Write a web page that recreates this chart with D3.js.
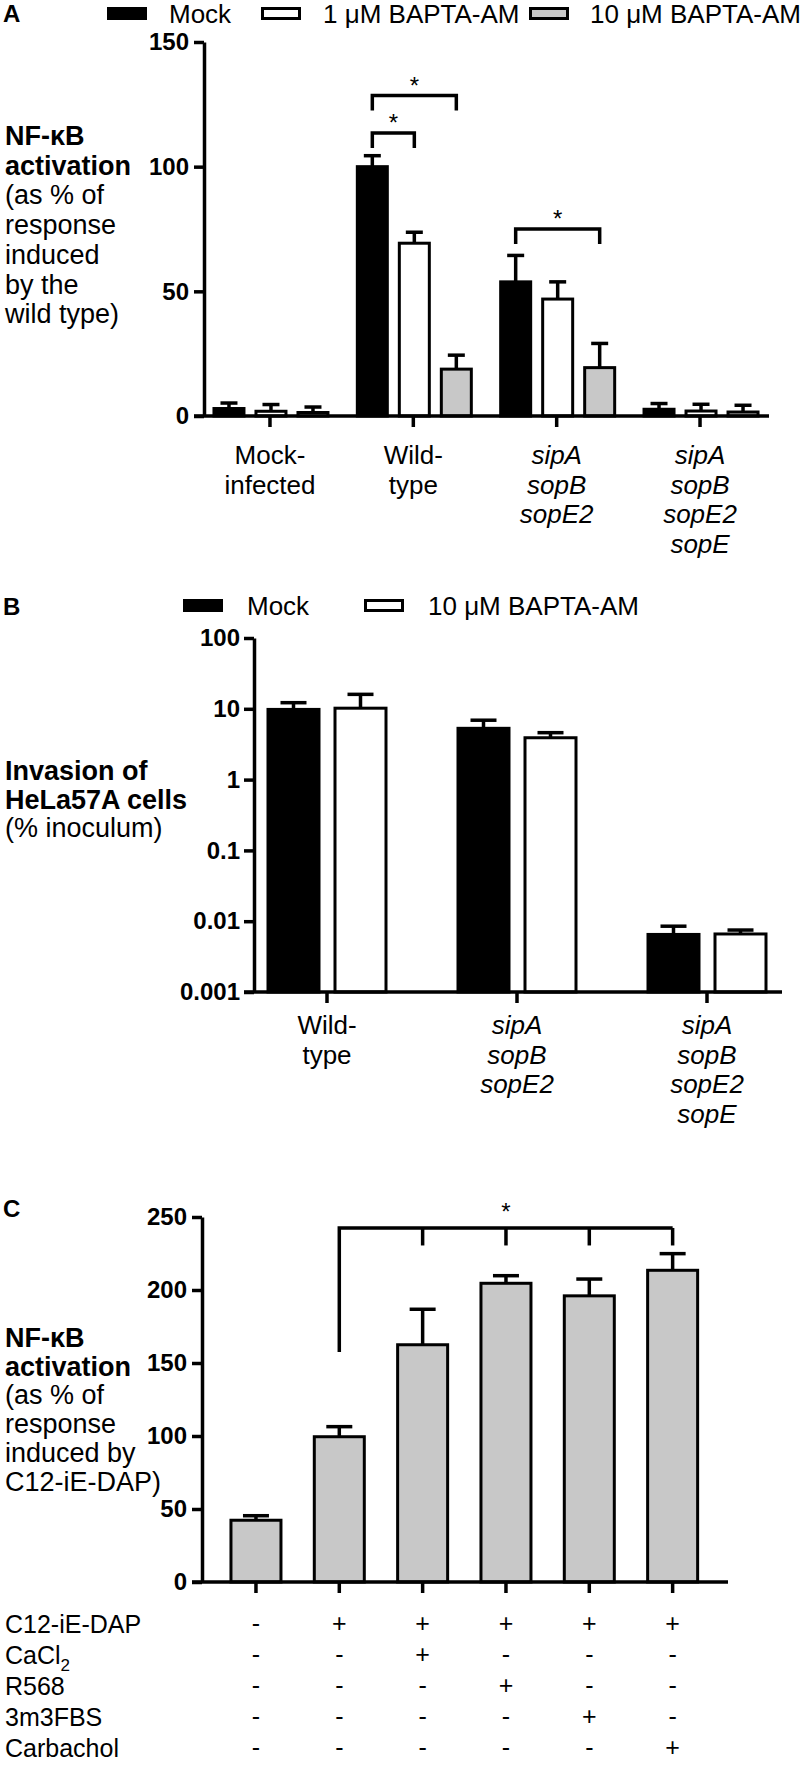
<!DOCTYPE html>
<html><head><meta charset="utf-8">
<script src="https://cdn.jsdelivr.net/npm/d3@7"></script>
<style>
body{margin:0;background:#fff;}
svg{display:block;font-family:"Liberation Sans",Arial,Helvetica,sans-serif;}
</style></head><body>
<script>
// ---------------- Panel A data ----------------
const groupsA = ["Mock-infected", "Wild-type", "sipA sopB sopE2", "sipA sopB sopE2 sopE"];
const groupLinesA = [["Mock-", "infected"], ["Wild-", "type"], ["sipA", "sopB", "sopE2"], ["sipA", "sopB", "sopE2", "sopE"]];
const italicA = [false, false, true, true];
const seriesA = ["Mock", "1 \u03BCM BAPTA-AM", "10 \u03BCM BAPTA-AM"];
const meanMockA = [3.0, 100, 53.8, 2.7];
const sdMockA   = [2.2, 4.4, 10.6, 2.3];
const mean1uMA  = [1.9, 69.3, 46.9, 2.0];
const sd1uMA    = [2.7, 4.4, 6.9, 2.7];
const mean10uMA = [1.4, 18.8, 19.4, 1.6];
const sd10uMA   = [2.2, 5.6, 9.7, 2.7];
const ticksA = [0, 50, 100, 150];
const yLabelA = [["NF-\u03BAB", true], ["activation", true], ["(as % of", false], ["response", false], ["induced", false], ["by the", false], ["wild type)", false]];
const bracketsA = [
  {group: 1, from: 0, to: 1, y: 113.5, leg: 6},
  {group: 1, from: 0, to: 2, y: 128.5, leg: 6},
  {group: 2, from: 0, to: 2, y: 75, leg: 6}
];

// ---------------- Panel B data ----------------
const groupsB = ["Wild-type", "sipA sopB sopE2", "sipA sopB sopE2 sopE"];
const groupLinesB = [["Wild-", "type"], ["sipA", "sopB", "sopE2"], ["sipA", "sopB", "sopE2", "sopE"]];
const italicB = [false, true, true];
const seriesB = ["Mock", "10 \u03BCM BAPTA-AM"];
const meanMockB  = [9.8, 5.3, 0.0065];
const upperMockB = [12.2, 6.9, 0.0085];
const mean10uMB  = [10.2, 3.9, 0.0066];
const upper10uMB = [16.0, 4.6, 0.0075];
const ticksB = [0.001, 0.01, 0.1, 1, 10, 100];
const tickLabelsB = ["0.001", "0.01", "0.1", "1", "10", "100"];
const yLabelB = [["Invasion of", true], ["HeLa57A cells", true], ["(% inoculum)", false]];

// ---------------- Panel C data ----------------
const conditionsC = ["none", "C12-iE-DAP", "C12-iE-DAP + CaCl2", "C12-iE-DAP + R568", "C12-iE-DAP + 3m3FBS", "C12-iE-DAP + Carbachol"];
const meanC  = [42.3, 99.5, 162.5, 204.6, 196.0, 213.5];
const upperC = [45.4, 106.4, 186.8, 209.8, 207.5, 224.9];
const ticksC = [0, 50, 100, 150, 200, 250];
const yLabelC = [["NF-\u03BAB", true], ["activation", true], ["(as % of", false], ["response", false], ["induced by", false], ["C12-iE-DAP)", false]];
const tableRowsC = ["C12-iE-DAP", "CaCl2", "R568", "3m3FBS", "Carbachol"];
const tableSignsC = [
  ["-", "+", "+", "+", "+", "+"],
  ["-", "-", "+", "-", "-", "-"],
  ["-", "-", "-", "+", "-", "-"],
  ["-", "-", "-", "-", "+", "-"],
  ["-", "-", "-", "-", "-", "+"]
];
const bracketC = {from: 1, to: [2, 3, 4, 5], y: 242.5, leftBottom: 157.5, leg: 12};

// ---------------- helpers ----------------
const BLACK = "#000", GRAY = "#c8c8c8", WHITE = "#fff";
const svg = d3.select("body").append("svg").attr("width", 800).attr("height", 1768);

function styleAxis(g) {
  g.attr("font-family", null).attr("font-size", null);
  g.selectAll(".domain").attr("stroke", BLACK).attr("stroke-width", 3.5);
  g.selectAll(".tick line").attr("stroke", BLACK).attr("stroke-width", 3.5);
  g.selectAll(".tick text").attr("fill", BLACK).attr("font-size", 24).attr("font-weight", "bold");
}
function panelLetter(t, y) {
  svg.append("text").attr("x", 3).attr("y", y).attr("font-size", 24).attr("font-weight", "bold").text(t);
}
function yTitle(lines, y0, lh) {
  svg.append("g").selectAll("text").data(lines).join("text")
    .attr("x", 5).attr("y", (d, i) => y0 + i * lh)
    .attr("font-size", 27).attr("font-weight", d => d[1] ? "bold" : "normal")
    .text(d => d[0]);
}
function legend(items, y) {
  const g = svg.append("g");
  items.forEach(it => {
    g.append("rect").attr("x", it.rx + 1.5).attr("y", y).attr("width", 37).attr("height", 10)
      .attr("fill", it.fill).attr("stroke", BLACK).attr("stroke-width", 3);
    g.append("text").attr("x", it.tx).attr("y", y + 14).attr("font-size", 26).text(it.label);
  });
}
function catLabels(xScale, groups, linesArr, italics, y0, lh) {
  const g = svg.append("g");
  groups.forEach((grp, i) => {
    const t = g.append("text").attr("text-anchor", "middle").attr("font-size", 26)
      .attr("font-style", italics[i] ? "italic" : "normal");
    linesArr[i].forEach((ln, j) => {
      t.append("tspan").attr("x", xScale(grp) + xScale.bandwidth() / 2).attr("y", y0 + j * lh).text(ln);
    });
  });
}
function errBar(g, cx, yTop, yErr, capW) {
  g.append("line").attr("x1", cx).attr("x2", cx).attr("y1", yTop).attr("y2", yErr)
    .attr("stroke", BLACK).attr("stroke-width", 3.5);
  g.append("line").attr("x1", cx - capW / 2).attr("x2", cx + capW / 2).attr("y1", yErr).attr("y2", yErr)
    .attr("stroke", BLACK).attr("stroke-width", 3.5);
}

// ================= Panel A =================
{
  const axisX = 204;
  const yA = d3.scaleLinear().domain([0, 150]).range([416, 42]);
  const xA = d3.scaleBand().domain(groupsA).range([198.3, 771.7]);
  const offA = d3.scalePoint().domain(seriesA).range([-41, 43]);
  const meansA = [meanMockA, mean1uMA, mean10uMA];
  const sdsA = [sdMockA, sd1uMA, sd10uMA];
  const fillsA = [BLACK, WHITE, GRAY];
  const barW = 30;
  const cx = (gi, si) => xA(groupsA[gi]) + xA.bandwidth() / 2 + offA(seriesA[si]);

  panelLetter("A", 22);
  legend([
    {rx: 107, tx: 169, fill: fillsA[0], label: seriesA[0]},
    {rx: 261, tx: 323, fill: fillsA[1], label: seriesA[1]},
    {rx: 529, tx: 590, fill: fillsA[2], label: seriesA[2]}
  ], 8.5);
  yTitle(yLabelA, 145, 29.7);

  const g = svg.append("g");
  seriesA.forEach((s, si) => {
    groupsA.forEach((grp, gi) => {
      const m = meansA[si][gi];
      g.append("rect").attr("x", cx(gi, si) - barW / 2).attr("y", yA(m))
        .attr("width", barW).attr("height", yA(0) - yA(m))
        .attr("fill", fillsA[si]).attr("stroke", BLACK).attr("stroke-width", 3);
      errBar(g, cx(gi, si), yA(m), yA(m + sdsA[si][gi]), 17);
    });
  });

  const ax = svg.append("g").attr("transform", `translate(${axisX},0)`)
    .call(d3.axisLeft(yA).tickValues(ticksA).tickSize(10).tickSizeOuter(0).tickPadding(5));
  styleAxis(ax);
  svg.append("line").attr("x1", axisX - 10).attr("x2", 769).attr("y1", yA(0)).attr("y2", yA(0))
    .attr("stroke", BLACK).attr("stroke-width", 3.5);
  const bx = svg.append("g").attr("transform", `translate(0,${yA(0)})`)
    .call(d3.axisBottom(xA).tickSize(11).tickFormat(""));
  bx.select(".domain").remove();
  styleAxis(bx);
  catLabels(xA, groupsA, groupLinesA, italicA, 464, 29.5);

  const gb = svg.append("g");
  bracketsA.forEach(b => {
    const x1 = cx(b.group, b.from), x2 = cx(b.group, b.to);
    const yb = yA(b.y), yl = yA(b.y - b.leg);
    gb.append("path").attr("d", `M${x1},${yl}V${yb}H${x2}V${yl}`)
      .attr("fill", "none").attr("stroke", BLACK).attr("stroke-width", 3.5);
    gb.append("text").attr("x", (x1 + x2) / 2).attr("y", yb - 16 + 14).attr("text-anchor", "middle")
      .attr("font-size", 24).text("*");
  });
}

// ================= Panel B =================
{
  const axisX = 254;
  const yB = d3.scaleLog().domain([0.001, 100]).range([992, 638]);
  const xB = d3.scaleBand().domain(groupsB).range([232, 802]);
  const offB = d3.scalePoint().domain(seriesB).range([-33.5, 33.5]);
  const meansB = [meanMockB, mean10uMB];
  const uppersB = [upperMockB, upper10uMB];
  const fillsB = [BLACK, WHITE];
  const barW = 51;
  const cx = (gi, si) => xB(groupsB[gi]) + xB.bandwidth() / 2 + offB(seriesB[si]);

  panelLetter("B", 615);
  legend([
    {rx: 183, tx: 247, fill: fillsB[0], label: seriesB[0]},
    {rx: 364, tx: 428, fill: fillsB[1], label: seriesB[1]}
  ], 600.5);
  yTitle(yLabelB, 780, 28.5);

  const g = svg.append("g");
  seriesB.forEach((s, si) => {
    groupsB.forEach((grp, gi) => {
      const m = meansB[si][gi];
      g.append("rect").attr("x", cx(gi, si) - barW / 2).attr("y", yB(m))
        .attr("width", barW).attr("height", yB(0.001) - yB(m))
        .attr("fill", fillsB[si]).attr("stroke", BLACK).attr("stroke-width", 3);
      errBar(g, cx(gi, si), yB(m), yB(uppersB[si][gi]), 26);
    });
  });

  const ax = svg.append("g").attr("transform", `translate(${axisX},0)`)
    .call(d3.axisLeft(yB).tickValues(ticksB).tickFormat((d, i) => tickLabelsB[i])
      .tickSize(10).tickSizeOuter(0).tickPadding(4));
  styleAxis(ax);
  svg.append("line").attr("x1", axisX - 10).attr("x2", 782).attr("y1", yB(0.001)).attr("y2", yB(0.001))
    .attr("stroke", BLACK).attr("stroke-width", 3.5);
  const bx = svg.append("g").attr("transform", `translate(0,${yB(0.001)})`)
    .call(d3.axisBottom(xB).tickSize(11).tickFormat(""));
  bx.select(".domain").remove();
  styleAxis(bx);
  catLabels(xB, groupsB, groupLinesB, italicB, 1034, 29.5);
}

// ================= Panel C =================
{
  const axisX = 202;
  const yC = d3.scaleLinear().domain([0, 250]).range([1582, 1217]);
  const xC = d3.scaleBand().domain(conditionsC).range([214.3, 714.3]);
  const barW = 50;
  const cx = i => xC(conditionsC[i]) + xC.bandwidth() / 2;

  panelLetter("C", 1217);
  yTitle(yLabelC, 1347, 28.7);

  const g = svg.append("g");
  conditionsC.forEach((c, i) => {
    g.append("rect").attr("x", cx(i) - barW / 2).attr("y", yC(meanC[i]))
      .attr("width", barW).attr("height", yC(0) - yC(meanC[i]))
      .attr("fill", GRAY).attr("stroke", BLACK).attr("stroke-width", 3);
    errBar(g, cx(i), yC(meanC[i]), yC(upperC[i]), 26);
  });

  const ax = svg.append("g").attr("transform", `translate(${axisX},0)`)
    .call(d3.axisLeft(yC).tickValues(ticksC).tickSize(10).tickSizeOuter(0).tickPadding(5));
  styleAxis(ax);
  svg.append("line").attr("x1", axisX - 10).attr("x2", 728).attr("y1", yC(0)).attr("y2", yC(0))
    .attr("stroke", BLACK).attr("stroke-width", 3.5);
  const bx = svg.append("g").attr("transform", `translate(0,${yC(0)})`)
    .call(d3.axisBottom(xC).tickSize(11).tickFormat(""));
  bx.select(".domain").remove();
  styleAxis(bx);

  // bracket
  const xl = cx(bracketC.from), xr = cx(bracketC.to[bracketC.to.length - 1]);
  const yb = yC(bracketC.y);
  const gb = svg.append("g").attr("fill", "none").attr("stroke", BLACK).attr("stroke-width", 3.5);
  gb.append("path").attr("d", `M${xl},${yC(bracketC.leftBottom)}V${yb}H${xr}`);
  bracketC.to.forEach(t => {
    gb.append("line").attr("x1", cx(t)).attr("x2", cx(t)).attr("y1", yb).attr("y2", yC(bracketC.y - bracketC.leg));
  });
  svg.append("text").attr("x", (xl + xr) / 2).attr("y", yb - 22 + 14).attr("text-anchor", "middle")
    .attr("font-size", 24).text("*");

  // table
  const gt = svg.append("g").attr("font-size", 25);
  tableRowsC.forEach((r, ri) => {
    const y = 1633 + ri * 31;
    const t = gt.append("text").attr("x", 5).attr("y", y);
    if (r === "CaCl2") {
      t.append("tspan").text("CaCl");
      t.append("tspan").attr("font-size", 17).attr("dy", 7).text("2");
    } else {
      t.text(r);
    }
    tableSignsC[ri].forEach((s, ci) => {
      gt.append("text").attr("x", cx(ci)).attr("y", y - 1).attr("text-anchor", "middle").text(s);
    });
  });
}
</script>
</body></html>
